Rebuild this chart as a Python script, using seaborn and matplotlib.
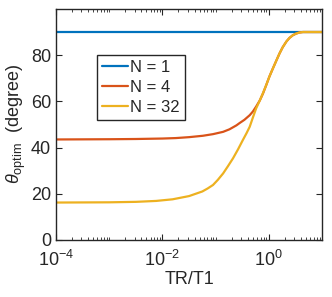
import numpy as np
import pandas as pd
import matplotlib
matplotlib.use("Agg")
import matplotlib.pyplot as plt
import matplotlib.ticker as mticker
import seaborn as sns

# values (x as log10(TR/T1))
log_x_n1 = [-4.0, 1.0]
theta_n1 = [90.0, 90.0]

log_x_n4 = [-4.0, -3.0, -2.5, -2.0, -1.75, -1.5, -1.24, -1.05, -0.86, -0.74,
            -0.61, -0.55, -0.46, -0.36, -0.30, -0.24, -0.17, -0.11, -0.05, 0.01,
            0.075, 0.14, 0.20, 0.26, 0.33, 0.39, 0.45, 0.51, 0.575, 0.64, 0.70,
            0.80, 1.0]
theta_n4 = [43.5, 43.6, 43.7, 43.9, 44.1, 44.5, 45.1, 45.8, 46.8, 47.9,
            49.6, 50.6, 52.0, 54.0, 55.6, 57.7, 60.4, 63.4, 67.0, 70.7,
            74.2, 77.6, 80.7, 83.4, 85.9, 87.5, 88.6, 89.3, 89.8, 90.0, 90.0,
            90.0, 90.0]

log_x_n32 = [-4.0, -3.0, -2.5, -2.12, -1.81, -1.5, -1.25, -1.15, -1.05, -0.96,
             -0.86, -0.77, -0.675, -0.58, -0.49, -0.42, -0.36, -0.30, -0.24, -0.17,
             -0.11, -0.05, 0.01, 0.075, 0.14, 0.20, 0.26, 0.33, 0.39, 0.45,
             0.51, 0.575, 0.64, 0.70, 0.80, 1.0]
theta_n32 = [16.2, 16.3, 16.5, 16.9, 17.6, 19.0, 21.0, 22.3, 23.8, 26.0,
             28.8, 31.9, 35.3, 39.2, 43.2, 46.2, 49.0, 53.0, 56.9, 60.4,
             63.6, 67.0, 70.7, 74.2, 77.6, 80.7, 83.4, 85.9, 87.5, 88.6,
             89.3, 89.8, 90.0, 90.0, 90.0, 90.0]

labels = ["N = 1", "N = 4", "N = 32"]
colors = ["#0072BD", "#D95319", "#EDB120"]

sns.set_style("ticks")
plt.rcParams['font.family'] = ['Liberation Sans', 'DejaVu Sans']
plt.rcParams['mathtext.fontset'] = 'custom'
plt.rcParams['mathtext.it'] = 'Liberation Sans:italic'
plt.rcParams['mathtext.rm'] = 'Liberation Sans'

fig = plt.figure(figsize=(3.32, 2.97), dpi=100)
ax = fig.add_axes([0.169, 0.192, 0.801, 0.778])

for lx, th, lab, c in zip([log_x_n1, log_x_n4, log_x_n32],
                          [theta_n1, theta_n4, theta_n32], labels, colors):
    sns.lineplot(x=10 ** np.array(lx), y=th, color=c, label=lab, lw=1.6, ax=ax)

ax.set_xscale("log")
ax.set_xlim(1e-4, 10)
ax.set_ylim(0, 100)
ax.set_yticks([0, 20, 40, 60, 80])
ax.xaxis.set_major_locator(mticker.FixedLocator([1e-4, 1e-2, 1e0]))
ax.xaxis.set_minor_locator(mticker.LogLocator(base=10, subs=np.arange(1, 10), numticks=20))
ax.xaxis.set_minor_formatter(mticker.NullFormatter())

ax.tick_params(which="both", direction="in", top=True, right=True,
               color="#262626", labelsize=13, labelcolor="#262626")
ax.tick_params(which="major", length=4, width=0.8)
ax.tick_params(which="minor", length=2, width=0.6)
ax.tick_params(axis="x", which="major", pad=7)
for s in ax.spines.values():
    s.set_color("#262626")
    s.set_linewidth(1.0)
    s.set_visible(True)

ax.set_xlabel("TR/T1", fontsize=13, color="#262626", labelpad=1)
ax.set_ylabel(r"$\theta_{\rm optim}$  (degree)", fontsize=13, color="#262626", labelpad=2)

leg = ax.legend(loc="upper left", bbox_to_anchor=(0.153, 0.80), fontsize=12,
                fancybox=False, edgecolor="#262626", framealpha=1,
                handlelength=1.6, handletextpad=0.1, borderpad=0.3,
                labelspacing=0.3, borderaxespad=0)
leg.get_frame().set_linewidth(1.0)

fig.savefig("out.png", dpi=100)
